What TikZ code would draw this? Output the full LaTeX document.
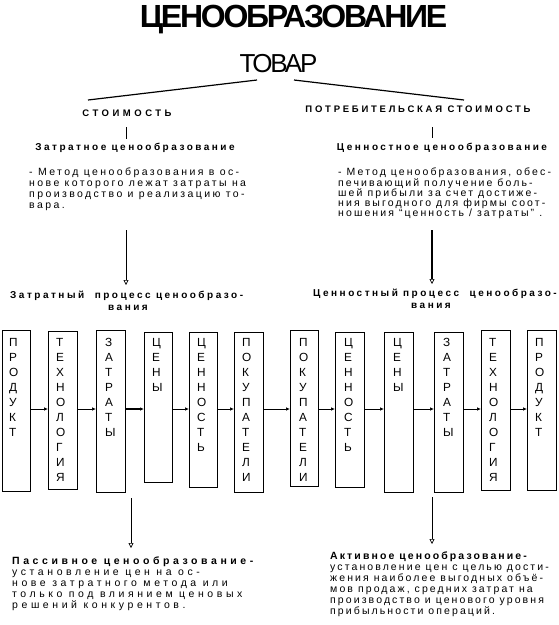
\documentclass[tikz,border=0pt]{standalone}
\usepackage{fontspec}
\setmainfont{Liberation Sans}
\newfontfamily\titlefont[LetterSpace=-7]{Liberation Sans}
\newfontfamily\tovarfont[LetterSpace=-8]{Liberation Sans}
\newfontfamily\capsAfont[LetterSpace=37]{Liberation Sans}
\newfontfamily\capsBfont[LetterSpace=29]{Liberation Sans}
\newfontfamily\headfont[LetterSpace=25]{Liberation Sans}
\newfontfamily\parafont[LetterSpace=20]{Liberation Sans}
\newfontfamily\paraLfont[LetterSpace=23]{Liberation Sans}
\newfontfamily\widefont[LetterSpace=34]{Liberation Sans}
\usetikzlibrary{arrows.meta}
\begin{document}
\begin{tikzpicture}[x=1pt,y=-1pt,
  box/.style={draw, line width=0.8pt, inner sep=0pt, anchor=north west},
  letters/.style={inner sep=0pt, anchor=north west, align=left, font=\fontsize{11.8}{15}\selectfont},
  harrow/.style={-{Latex[length=4pt,width=3.5pt]}, line width=0.7pt},
  varrow/.style={-{Triangle[open,length=5pt,width=5pt,line width=0.7pt]}, line width=0.8pt},
  link/.style={line width=1.2pt},
  tick/.style={line width=0.9pt},
  capsA/.style={inner sep=0pt, anchor=base, font=\capsAfont\bfseries\fontsize{9.5}{9.5}\selectfont},
  capsB/.style={inner sep=0pt, anchor=base, font=\capsBfont\bfseries\fontsize{9.5}{9.5}\selectfont},
  head/.style={inner sep=0pt, anchor=base, font=\headfont\bfseries\fontsize{10}{10}\selectfont},
  para/.style={inner sep=0pt, anchor=north west, align=left, font=\parafont\fontsize{10.5}{10.7}\selectfont},
  wpara/.style={inner sep=0pt, anchor=north west, align=left, font=\widefont\fontsize{10.5}{10.8}\selectfont},
]
\useasboundingbox (0,0) rectangle (558,625);

% title
\node[inner sep=0pt, anchor=base, font=\titlefont\bfseries\fontsize{32}{32}\selectfont] (title) at (293.5,27) {ЦЕНООБРАЗОВАНИЕ};
\node[inner sep=0pt, anchor=base, font=\tovarfont\fontsize{26}{26}\selectfont] (tovar) at (278.5,72) {ТОВАР};

\coordinate (tovL) at (257,80);
\coordinate (tovR) at (294,80);
\coordinate (endL) at (88,100);
\coordinate (endR) at (464,100);
\draw[link] (tovL) -- (endL);
\draw[link] (tovR) -- (endR);

\node[capsA] (st) at (127,116) {СТОИМОСТЬ};
\node[capsB] (pst) at (418,112) {ПОТРЕБИТЕЛЬСКАЯ СТОИМОСТЬ};

% headings
\node[head] (zh) at (135,150) {Затратное ценообразование};
\node[head] (ch) at (442,150) {Ценностное ценообразование};
\coordinate (sl1) at (126,127);
\coordinate (sl2) at (126,139);
\coordinate (sr1) at (432,127);
\coordinate (sr2) at (432,138);
\draw[tick] (sl1) -- (sl2);
\draw[tick] (sr1) -- (sr2);

% paragraphs
\node[para, font=\paraLfont\fontsize{10.5}{10.7}\selectfont] (zp) at (29,168) { - Метод ценообразования в ос-\\нове которого лежат затраты на\\производство и реализацию то-\\вара.};
\node[para, font=\parafont\fontsize{10.5}{10.2}\selectfont] (cp) at (338,168) { - Метод ценообразования, обес-\\печивающий получение боль-\\шей прибыли за счет достиже-\\ния выгодного для фирмы соот-\\ношения “ценность / затраты” .};

% arrows to process headings
\coordinate (za1) at (126,230);
\coordinate (za2) at (126,285);
\coordinate (ca1) at (432,230);
\coordinate (ca2) at (432,284);
\draw[varrow] (za1) -- (za2);
\draw[varrow, line width=1.8pt] (ca1) -- (ca2);

\node[head, anchor=base west] (zpr) at (10,298) {Затратный~ процесс ценообразо-};
\node[head] (zpr2) at (128,310) {вания};
\node[head, anchor=base west] (cpr) at (313,296) {Ценностный процесс~ ценообразо-};
\node[head] (cpr2) at (431,308) {вания};

% boxes
\node[box, minimum width=28pt, minimum height=161pt] (b1) at (2,330) {};
\node[box, minimum width=29pt, minimum height=158pt] (b2) at (48,331) {};
\node[box, minimum width=29pt, minimum height=162pt] (b3) at (96,330) {};
\node[box, minimum width=28pt, minimum height=150pt] (b4) at (144,332) {};
\node[box, minimum width=28pt, minimum height=155pt] (b5) at (189,332) {};
\node[box, minimum width=29pt, minimum height=160pt] (b6) at (234,332) {};
\node[box, minimum width=28pt, minimum height=156pt] (b7) at (290,330) {};
\node[box, minimum width=29pt, minimum height=155pt] (b8) at (335,332) {};
\node[box, minimum width=29pt, minimum height=160pt] (b9) at (384,332) {};
\node[box, minimum width=29pt, minimum height=160pt] (b10) at (434,332) {};
\node[box, minimum width=29pt, minimum height=160pt] (b11) at (481,330) {};
\node[box, minimum width=29pt, minimum height=160pt] (b12) at (527,330) {};

\node[letters] (t1) at (9,338) {П\\Р\\О\\Д\\У\\К\\Т};
\node[letters] (t2) at (56,338) {Т\\Е\\Х\\Н\\О\\Л\\О\\Г\\И\\Я};
\node[letters] (t3) at (105,338) {З\\А\\Т\\Р\\А\\Т\\Ы};
\node[letters] (t4) at (152,338) {Ц\\Е\\Н\\Ы};
\node[letters] (t5) at (197,338) {Ц\\Е\\Н\\Н\\О\\С\\Т\\Ь};
\node[letters] (t6) at (242,338) {П\\О\\К\\У\\П\\А\\Т\\Е\\Л\\И};
\node[letters] (t7) at (299,338) {П\\О\\К\\У\\П\\А\\Т\\Е\\Л\\И};
\node[letters] (t8) at (344,338) {Ц\\Е\\Н\\Н\\О\\С\\Т\\Ь};
\node[letters] (t9) at (393,338) {Ц\\Е\\Н\\Ы};
\node[letters] (t10) at (443,338) {З\\А\\Т\\Р\\А\\Т\\Ы};
\node[letters] (t11) at (489,338) {Т\\Е\\Х\\Н\\О\\Л\\О\\Г\\И\\Я};
\node[letters] (t12) at (535,338) {П\\Р\\О\\Д\\У\\К\\Т};

\coordinate (ay) at (0,409);
\draw[harrow] (b1.east |- ay) -- (b2.west |- ay);
\draw[harrow] (b2.east |- ay) -- (b3.west |- ay);
\draw[harrow, line width=2pt] (b3.east |- ay) -- (b4.west |- ay);
\draw[harrow] (b4.east |- ay) -- (b5.west |- ay);
\draw[harrow] (b5.east |- ay) -- (b6.west |- ay);
\draw[harrow] (b6.east |- ay) -- (b7.west |- ay);
\draw[harrow] (b7.east |- ay) -- (b8.west |- ay);
\draw[harrow] (b8.east |- ay) -- (b9.west |- ay);
\draw[harrow] (b9.east |- ay) -- (b10.west |- ay);
\draw[harrow] (b10.east |- ay) -- (b11.west |- ay);
\draw[harrow] (b11.east |- ay) -- (b12.west |- ay);

% lower arrows
\coordinate (la1) at (131,498);
\coordinate (la2) at (131,548);
\coordinate (ra1) at (432,497);
\coordinate (ra2) at (432,544);
\draw[varrow] (la1) -- (la2);
\draw[varrow] (ra1) -- (ra2);

\node[wpara] (pp) at (12,557) {\textbf{Пассивное ценообразование-}\\установление цен на ос-\\нове затратного метода или\\только под влиянием ценовых\\решений конкурентов.};
\node[para, font=\parafont\fontsize{10.5}{11}\selectfont] (ap) at (330,552) {\textbf{Активное ценообразование-}\\установление цен с целью дости-\\жения наиболее выгодных объё-\\мов продаж, средних затрат на\\производство и ценового уровня\\прибыльности операций.};
\end{tikzpicture}
\end{document}
